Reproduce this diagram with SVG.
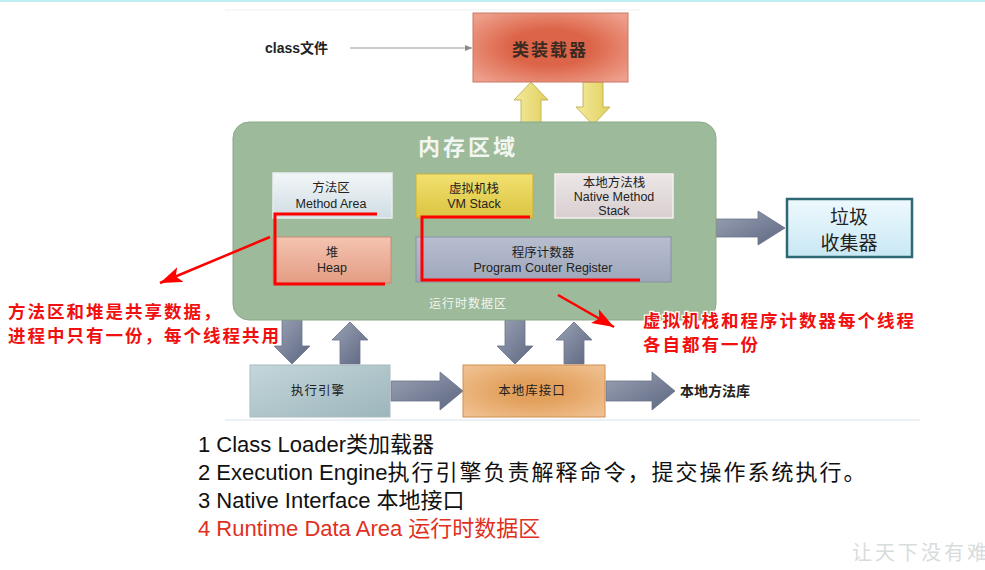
<svg xmlns="http://www.w3.org/2000/svg" width="985" height="570" viewBox="0 0 985 570">
<defs>
<style>
.t{font-family:"Liberation Sans","Noto Sans CJK SC",sans-serif;fill:#222;text-anchor:middle}
.cn{font-family:"Noto Sans CJK SC",sans-serif}
.red{font-family:"Noto Sans CJK SC",sans-serif;font-weight:bold;font-size:17.5px;fill:#f01010;stroke:#fff;stroke-width:2.5;paint-order:stroke;letter-spacing:2px}
.list{font-family:"Liberation Sans","Noto Sans CJK SC",sans-serif;font-size:22px;fill:#111}
.bk{fill:none;stroke:#f00;stroke-width:3}
.garrow{fill:url(#gArr);stroke:#6a7488;stroke-width:0.8}
.yarrow{fill:url(#yArr);stroke:#b8a840;stroke-width:0.8}
</style>
<radialGradient id="gLoader" cx="50%" cy="50%" r="65%"><stop offset="0.4" stop-color="#dc6448"/><stop offset="1" stop-color="#eea08c"/></radialGradient>
<linearGradient id="gMethod" x1="0" y1="0" x2="0" y2="1"><stop offset="0" stop-color="#f2f6f8"/><stop offset="1" stop-color="#cfdde3"/></linearGradient>
<linearGradient id="gVM" x1="0" y1="0" x2="0" y2="1"><stop offset="0" stop-color="#f2e070"/><stop offset="1" stop-color="#dcc440"/></linearGradient>
<linearGradient id="gNative" x1="0" y1="0" x2="0" y2="1"><stop offset="0" stop-color="#ece6e6"/><stop offset="1" stop-color="#d8d0d0"/></linearGradient>
<linearGradient id="gHeap" x1="0" y1="0" x2="0" y2="1"><stop offset="0" stop-color="#f4c4b0"/><stop offset="1" stop-color="#e49c84"/></linearGradient>
<linearGradient id="gPC" x1="0" y1="0" x2="0" y2="1"><stop offset="0" stop-color="#b8bed0"/><stop offset="1" stop-color="#9ea6ba"/></linearGradient>
<linearGradient id="gGC" x1="0" y1="0" x2="0" y2="1"><stop offset="0" stop-color="#eef9fd"/><stop offset="1" stop-color="#c8e8f4"/></linearGradient>
<linearGradient id="gExec" x1="0" y1="0" x2="1" y2="1"><stop offset="0" stop-color="#c4d6da"/><stop offset="1" stop-color="#9cb6bc"/></linearGradient>
<radialGradient id="gNI" cx="50%" cy="50%" r="65%"><stop offset="0.3" stop-color="#e2a05c"/><stop offset="1" stop-color="#f0c090"/></radialGradient>
<linearGradient id="gArr" x1="0" y1="0" x2="1" y2="1"><stop offset="0" stop-color="#9aa2b4"/><stop offset="1" stop-color="#5c6680"/></linearGradient>
<linearGradient id="yArr" x1="0" y1="0" x2="1" y2="0"><stop offset="0" stop-color="#f4ea9c"/><stop offset="1" stop-color="#e0d060"/></linearGradient>
<marker id="thin" markerWidth="8" markerHeight="8" refX="7" refY="4" orient="auto" markerUnits="userSpaceOnUse"><path d="M0,1 L7,4 L0,7 Z" fill="#888"/></marker>
<marker id="redHead" markerWidth="24" markerHeight="16" refX="22" refY="8" orient="auto" markerUnits="userSpaceOnUse"><path d="M0,0 L22,8 L0,16 L5,8 Z" fill="#f00"/></marker>
</defs>
<rect width="985" height="570" fill="#fff"/>
<rect width="985" height="2" fill="#bfeff5"/>
<line x1="225" y1="10" x2="640" y2="10" stroke="#f0f0f0" stroke-width="1"/>
<line x1="225" y1="420" x2="920" y2="420" stroke="#e4edf2" stroke-width="1.5"/>

<g id="connectors">
<line x1="350" y1="48" x2="472" y2="48" stroke="#999" stroke-width="1.2" marker-end="url(#thin)"/>
<path class="yarrow" d="M521,125 L521,100 L514,100 L531,82 L548,100 L541,100 L541,125 Z"/>
<path class="yarrow" d="M583,82 L603,82 L603,107 L610,107 L593,125 L576,107 L583,107 Z"/>
<path class="garrow" d="M716,219 L758,219 L758,211 L785,228 L758,245 L758,237 L716,237 Z"/>
<path class="garrow" d="M282,320 L302,320 L302,346 L310,346 L292,364 L274,346 L282,346 Z"/>
<path class="garrow" d="M340,364 L340,340 L332,340 L350,322 L368,340 L360,340 L360,364 Z"/>
<path class="garrow" d="M505,320 L525,320 L525,346 L533,346 L515,364 L497,346 L505,346 Z"/>
<path class="garrow" d="M564,364 L564,340 L556,340 L574,322 L592,340 L584,340 L584,364 Z"/>
<path class="garrow" d="M391,381 L440,381 L440,372 L463,391 L440,410 L440,401 L391,401 Z"/>
<path class="garrow" d="M606,381 L652,381 L652,372 L675,391 L652,410 L652,401 L606,401 Z"/>
</g>

<g id="classfile"><text x="265" y="53" font-family="Liberation Sans,Noto Sans CJK SC,sans-serif" font-weight="bold" font-size="14" fill="#222">class文件</text></g>

<g id="loader">
<rect x="473" y="13" width="155" height="69" fill="url(#gLoader)" stroke="#c87868" stroke-width="1"/>
<text class="t cn" x="550" y="56" font-size="17" font-weight="bold" style="fill:#3a2a22" letter-spacing="2">类装载器</text>
</g>

<g id="memory">
<rect x="233" y="122" width="483" height="198" rx="16" fill="#9dba9a" stroke="#8aa888"/>
<text class="t cn" x="468" y="155" font-size="22" font-weight="bold" style="fill:#f2f6f0" letter-spacing="3">内存区域</text>
<text class="t cn" x="468" y="308" font-size="12" style="fill:#f2f6f0" letter-spacing="1">运行时数据区</text>
</g>

<g id="method">
<rect x="273" y="173" width="119" height="45" fill="url(#gMethod)" stroke="#e8eef0" stroke-width="1.5"/>
<text class="t" x="331" y="192" font-size="12.5">方法区</text>
<text class="t" x="331" y="208" font-size="12.5">Method Area</text>
</g>
<g id="vmstack">
<rect x="416" y="174" width="117" height="44" fill="url(#gVM)" stroke="#c8b040" stroke-width="1"/>
<text class="t" x="474" y="193" font-size="12.5">虚拟机栈</text>
<text class="t" x="474" y="208" font-size="12.5">VM Stack</text>
</g>
<g id="nativestack">
<rect x="555" y="174" width="118" height="44" fill="url(#gNative)" stroke="#f4f0f0" stroke-width="1.5"/>
<text class="t" x="614" y="187" font-size="12.5">本地方法栈</text>
<text class="t" x="614" y="201" font-size="12.5">Native Method</text>
<text class="t" x="614" y="215" font-size="12.5">Stack</text>
</g>
<g id="heap">
<rect x="273" y="237" width="118" height="46" fill="url(#gHeap)" stroke="#c88a74" stroke-width="1"/>
<text class="t" x="332" y="257" font-size="12.5">堆</text>
<text class="t" x="332" y="272" font-size="12.5">Heap</text>
</g>
<g id="pc">
<rect x="416" y="237" width="255" height="45" fill="url(#gPC)" stroke="#8890a4" stroke-width="1"/>
<text class="t" x="543" y="257" font-size="12.5">程序计数器</text>
<text class="t" x="543" y="272" font-size="12.5">Program Couter Register</text>
</g>

<g id="gc">
<rect x="787" y="199" width="125" height="58" fill="url(#gGC)" stroke="#2e6874" stroke-width="2.5"/>
<text class="t cn" x="849" y="224" font-size="19">垃圾</text>
<text class="t cn" x="849" y="250" font-size="19">收集器</text>
</g>

<g id="exec">
<rect x="250" y="365" width="140" height="52" fill="url(#gExec)" stroke="#a8bcc0" stroke-width="1"/>
<text class="t cn" x="318" y="395" font-size="12.5" letter-spacing="1">执行引擎</text>
</g>
<g id="nativeif">
<rect x="463" y="365" width="142" height="52" fill="url(#gNI)" stroke="#d09050" stroke-width="1"/>
<text class="t cn" x="532" y="395" font-size="12.5" letter-spacing="1">本地库接口</text>
</g>
<g id="nativelib"><text x="680" y="396" font-family="Noto Sans CJK SC,sans-serif" font-weight="bold" font-size="14" fill="#222">本地方法库</text></g>

<g id="annotations">
<path class="bk" d="M377,214 L275,214 L275,284 L385,284"/>
<path class="bk" d="M530,217 L422,217 L422,280 L640,280"/>
<line x1="270" y1="237" x2="160" y2="283" stroke="#f00" stroke-width="2.5" marker-end="url(#redHead)"/>
<line x1="558" y1="295" x2="614" y2="327" stroke="#f00" stroke-width="2.5" marker-end="url(#redHead)"/>
<text class="red" x="8" y="318">方法区和堆是共享数据，</text>
<text class="red" x="8" y="342">进程中只有一份，每个线程共用</text>
<text class="red" x="643" y="327">虚拟机栈和程序计数器每个线程</text>
<text class="red" x="643" y="351">各自都有一份</text>
</g>

<g id="list">
<text class="list" x="198" y="452">1 Class Loader类加载器</text>
<text class="list" x="198" y="480">2 Execution Engine<tspan letter-spacing="2">执行引擎负责解释命令，提交操作系统执行。</tspan></text>
<text class="list" x="198" y="508">3 Native Interface 本地接口</text>
<text class="list" x="198" y="536" style="fill:#e0301e">4 Runtime Data Area 运行时数据区</text>
</g>
<text x="852" y="560" font-family="Noto Sans CJK SC,sans-serif" font-size="20" fill="#d8dcdc" letter-spacing="3">让天下没有难</text>
</svg>
